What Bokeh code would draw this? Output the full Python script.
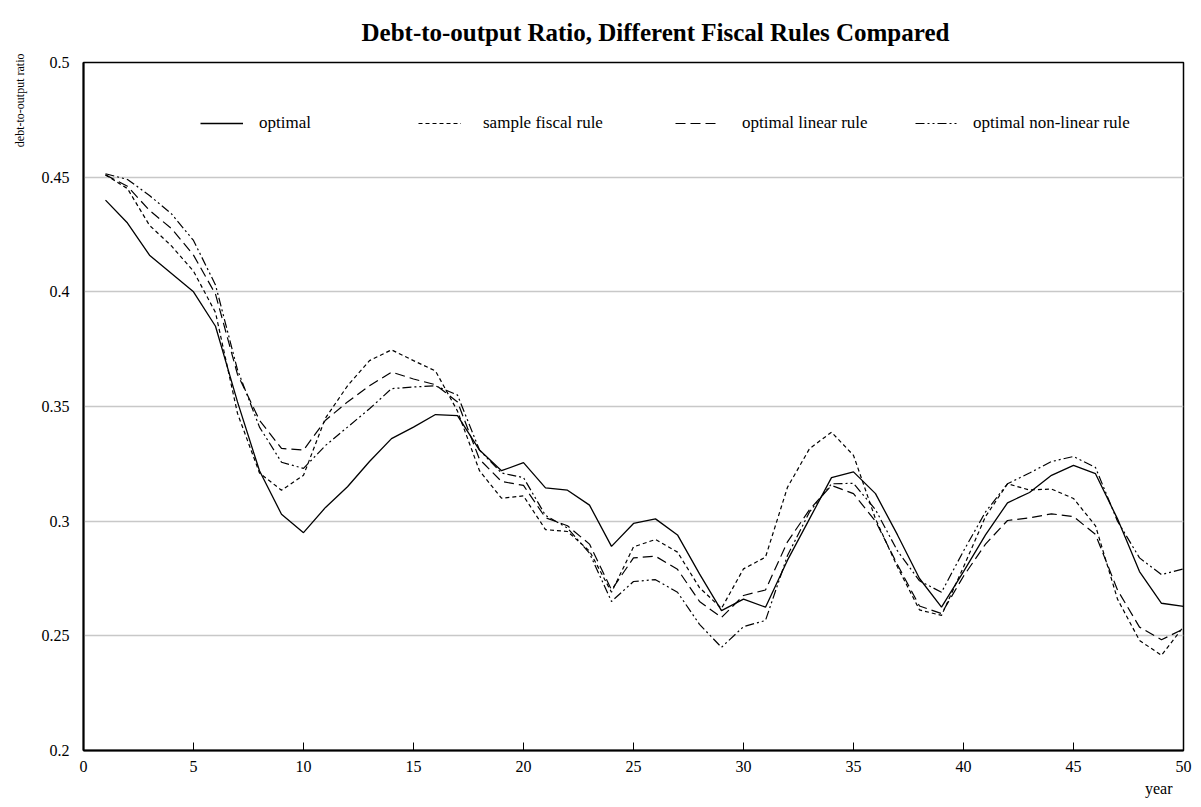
from bokeh.plotting import figure
from bokeh.models import Range1d, FixedTicker, CustomJSTickFormatter, Legend, LegendItem, Title
from bokeh.embed import file_html
from bokeh.resources import INLINE

years = list(range(1, 51))

optimal = [0.440, 0.430, 0.416, 0.408, 0.400, 0.385, 0.352, 0.322, 0.303, 0.295,
           0.306, 0.315, 0.326, 0.336, 0.341, 0.3465, 0.346, 0.331, 0.322, 0.3255,
           0.3145, 0.3135, 0.307, 0.289, 0.299, 0.301, 0.294, 0.277, 0.261, 0.266,
           0.2625, 0.283, 0.301, 0.319, 0.3215, 0.312, 0.294, 0.275, 0.2625, 0.278,
           0.294, 0.308, 0.3125, 0.320, 0.3243, 0.3207, 0.301, 0.278, 0.2642, 0.2628]

sample_rule = [0.451, 0.445, 0.429, 0.420, 0.409, 0.391, 0.347, 0.321, 0.3135, 0.320,
               0.345, 0.359, 0.370, 0.3747, 0.370, 0.3655, 0.348, 0.322, 0.310, 0.311,
               0.2963, 0.2955, 0.287, 0.269, 0.2888, 0.292, 0.2865, 0.271, 0.262, 0.2792,
               0.2843, 0.3148, 0.3316, 0.3388, 0.3287, 0.301, 0.280, 0.2613, 0.2589, 0.280,
               0.302, 0.3163, 0.3136, 0.314, 0.3099, 0.298, 0.266, 0.248, 0.2415, 0.254]

linear_rule = [0.451, 0.446, 0.4355, 0.4276, 0.416, 0.399, 0.364, 0.344, 0.3317, 0.331,
               0.344, 0.352, 0.359, 0.365, 0.362, 0.3595, 0.352, 0.327, 0.3173, 0.3156,
               0.3015, 0.298, 0.290, 0.270, 0.284, 0.2847, 0.279, 0.265, 0.258, 0.2676,
               0.270, 0.291, 0.305, 0.3156, 0.312, 0.300, 0.281, 0.263, 0.2597, 0.276,
               0.290, 0.3003, 0.3014, 0.3032, 0.302, 0.2942, 0.270, 0.2538, 0.2483, 0.253]

nonlinear_rule = [0.4515, 0.449, 0.442, 0.434, 0.4224, 0.403, 0.366, 0.341, 0.3257, 0.323,
                  0.333, 0.341, 0.349, 0.3578, 0.3585, 0.359, 0.355, 0.331, 0.321, 0.319,
                  0.3025, 0.297, 0.286, 0.265, 0.2737, 0.2745, 0.269, 0.255, 0.245, 0.254,
                  0.2567, 0.285, 0.304, 0.3163, 0.3165, 0.305, 0.287, 0.274, 0.269, 0.287,
                  0.304, 0.3163, 0.321, 0.326, 0.3282, 0.3234, 0.300, 0.284, 0.2767, 0.2792]

x_ticks = [0, 5, 10, 15, 20, 25, 30, 35, 40, 45, 50]
y_ticks = [0.2, 0.25, 0.3, 0.35, 0.4, 0.45, 0.5]

title_text = "Debt-to-output Ratio, Different Fiscal Rules Compared"
y_label_text = "debt-to-output ratio"
x_label_text = "year"
legend_labels = ["optimal", "sample fiscal rule", "optimal linear rule", "optimal non-linear rule"]

FONT = "Liberation Serif"

p = figure(width=1201, height=807, output_backend="svg", toolbar_location=None,
           title=None, x_range=Range1d(0, 50), y_range=Range1d(0.2, 0.5),
           min_border_left=80, min_border_right=18, min_border_top=62, min_border_bottom=57)
p.background_fill_color = "white"
p.border_fill_color = "white"
p.outline_line_color = "black"
p.outline_line_width = 1.5
p.outline_line_alpha = 1.0

main_title = Title(text=title_text, align="left", offset=278, vertical_align="middle",
                   standoff=31, text_font=FONT, text_font_size="25px",
                   text_font_style="bold", text_color="black")
p.add_layout(main_title, "above")

# x axis
p.xaxis.ticker = FixedTicker(ticks=x_ticks)
p.xaxis.major_tick_in = 8
p.xaxis.major_tick_out = 0
p.xaxis.minor_tick_line_color = None
p.xaxis.major_tick_line_color = "black"
p.xaxis.axis_line_color = "black"
p.xaxis.axis_line_width = 2
p.xaxis.major_label_text_font = FONT
p.xaxis.major_label_text_font_size = "16px"
p.xaxis.major_label_text_color = "black"
p.xaxis.major_label_standoff = 10

# y axis
p.yaxis.ticker = FixedTicker(ticks=y_ticks)
p.yaxis.formatter = CustomJSTickFormatter(code="return String(Math.round(tick*100)/100);")
p.yaxis.major_tick_in = 0
p.yaxis.major_tick_out = 0
p.yaxis.minor_tick_line_color = None
p.yaxis.axis_line_color = "black"
p.yaxis.axis_line_width = 2
p.yaxis.major_label_text_font = FONT
p.yaxis.major_label_text_font_size = "16px"
p.yaxis.major_label_text_color = "black"
p.yaxis.major_label_standoff = 14

p.xgrid.visible = False
p.ygrid.grid_line_color = "#c8c8c8"
p.ygrid.grid_line_width = 1.5

r1 = p.line(years, optimal, line_color="black", line_width=1.3)
r2 = p.line(years, sample_rule, line_color="black", line_width=1.2, line_dash="4 3")
r3 = p.line(years, linear_rule, line_color="black", line_width=1.2, line_dash="10 5")
r4 = p.line(years, nonlinear_rule, line_color="black", line_width=1.2, line_dash="9 3 2 3 2 3")

def add_legend(label, r, x, standoff):
    lg = Legend(items=[LegendItem(label=label, renderers=[r])], location=(x, 617),
                orientation="horizontal", glyph_width=43, glyph_height=20, label_height=20,
                label_standoff=standoff, padding=0, margin=0, spacing=0,
                border_line_color=None, background_fill_alpha=0,
                label_text_font=FONT, label_text_font_size="17px", label_text_color="black")
    p.add_layout(lg)

add_legend(legend_labels[0], r1, 117, 16)
add_legend(legend_labels[1], r2, 335, 22)
add_legend(legend_labels[2], r3, 592, 24)
add_legend(legend_labels[3], r4, 832, 15)

p.add_layout(Title(text=x_label_text, align="right", offset=11, vertical_align="top",
                   standoff=10, text_font=FONT, text_font_size="16px",
                   text_font_style="normal", text_color="black"), "below")
p.add_layout(Title(text=y_label_text, align="right", offset=-9, vertical_align="middle",
                   standoff=22, text_font=FONT, text_font_size="12px",
                   text_font_style="normal", text_color="black"), "left")

open("out.html", "w").write(file_html(p, INLINE))
